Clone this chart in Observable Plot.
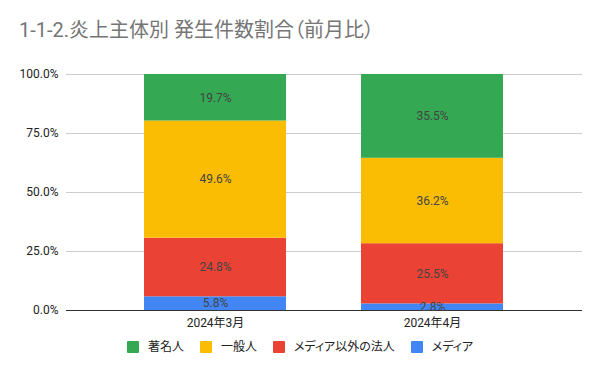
<!DOCTYPE html>
<html>
<head>
<meta charset="utf-8">
<script src="https://cdn.jsdelivr.net/npm/d3@7"></script>
<script src="https://cdn.jsdelivr.net/npm/@observablehq/plot@0.6"></script>
<style>
  html, body { margin: 0; padding: 0; background: #fff; }
  #wrap { position: relative; width: 600px; height: 371px; overflow: hidden; font-family: Roboto, "Noto Sans CJK JP", sans-serif; }
  #title { position: absolute; left: 19px; top: 19px; font-size: 20px; line-height: 22px; color: #757575; white-space: nowrap; font-feature-settings: "palt"; }
  #chart { position: absolute; left: 0; top: 0; }
  #legend { position: absolute; left: 0; top: 339px; width: 600px; display: flex; justify-content: center; font-size: 12px; color: #222; line-height: 16px; font-feature-settings: "palt"; }
  .item { display: flex; align-items: center; margin: 0 8px; }
  .sw { width: 12px; height: 12px; margin-right: 9px; border-radius: 1px; }
</style>
</head>
<body>
<div id="wrap">
  <div id="chart"></div>
  <div id="title"></div>
  <div id="legend"></div>
</div>
<script>
const titleText = "1-1-2.炎上主体別 発生件数割合（前月比）";
const months = ["2024年3月", "2024年4月"];
const categories = ["メディア", "メディア以外の法人", "一般人", "著名人"]; // bottom to top
const colors = ["#4285f4", "#ea4335", "#fbbc04", "#34a853"];
const march = [5.8, 24.8, 49.6, 19.7];
const april = [2.8, 25.5, 36.2, 35.5];
const legendOrder = ["著名人", "一般人", "メディア以外の法人", "メディア"];
const yTicks = [0, 0.25, 0.5, 0.75, 1];

const series = [march, april];
const rows = [];
months.forEach((m, i) => {
  categories.forEach((c, j) => rows.push({month: m, cat: c, value: series[i][j]}));
});

document.getElementById("title").textContent = titleText;

const font = 'Roboto, "Noto Sans CJK JP", sans-serif';
const chart = Plot.plot({
  width: 600,
  height: 330,
  marginTop: 74,
  marginBottom: 20,
  marginLeft: 66,
  marginRight: 18,
  style: {fontFamily: font, fontSize: "12px", color: "#222", background: "transparent"},
  x: {domain: months, paddingInner: 0.344, paddingOuter: 0.356, label: null},
  y: {domain: [0, 1], label: null},
  color: {domain: categories, range: colors},
  marks: [
    Plot.gridY(yTicks, {stroke: "#cccccc", strokeOpacity: 1}),
    Plot.barY(rows, Plot.stackY({offset: "normalize", order: null}, {x: "month", y: "value", fill: "cat", z: "cat"})),
    Plot.ruleY([0], {stroke: "#333", strokeWidth: 1}),
    Plot.text(rows, Plot.stackY({offset: "normalize", order: null}, {
      x: "month", y: "value", z: "cat",
      text: d => d.value.toFixed(1) + "%",
      fill: "#444", fontSize: 12
    })),
    Plot.axisY(yTicks, {tickFormat: d3.format(".1%"), tickSize: 0, tickPadding: 8, fill: "#222", fontSize: 12}),
    Plot.axisX({tickSize: 0, tickPadding: 8, fill: "#222", fontSize: 12})
  ]
});
document.getElementById("chart").appendChild(chart);

const legend = document.getElementById("legend");
legendOrder.forEach(name => {
  const item = document.createElement("div");
  item.className = "item";
  const sw = document.createElement("div");
  sw.className = "sw";
  sw.style.background = colors[categories.indexOf(name)];
  const t = document.createElement("span");
  t.textContent = name;
  item.appendChild(sw);
  item.appendChild(t);
  legend.appendChild(item);
});
</script>
</body>
</html>
